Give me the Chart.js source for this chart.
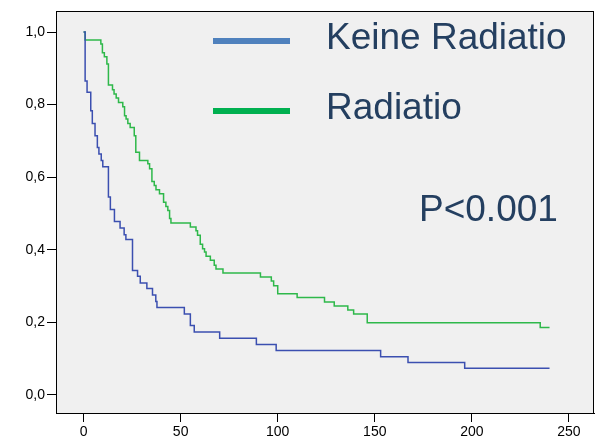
<!DOCTYPE html>
<html>
<head>
<meta charset="utf-8">
<script src="https://cdn.jsdelivr.net/npm/chart.js@4"></script>
<style>
  body { margin: 0; background: #fff; }
  canvas { display: block; }
</style>
</head>
<body>
<canvas id="km" width="595" height="438"></canvas>
<script>
// survival curves (months, cumulative survival)
var blueTimes = [0, 0.8, 1.8, 3.7, 4.5, 5.9, 7.1, 7.9, 9.1, 9.9, 12.8, 13.8, 15.9, 18.8, 20.9, 21.8, 25.2, 27.8, 29.2, 32.6, 35.5, 37.2, 37.8, 51.9, 55.0, 57.0, 70.1, 89.0, 99.2, 153.0, 167.1, 196.3, 240.0];
var blueSurv = [1.0, 0.865, 0.834, 0.783, 0.748, 0.714, 0.682, 0.664, 0.646, 0.629, 0.545, 0.511, 0.478, 0.460, 0.441, 0.428, 0.343, 0.327, 0.308, 0.293, 0.275, 0.257, 0.241, 0.223, 0.191, 0.173, 0.156, 0.139, 0.122, 0.105, 0.089, 0.073, 0.073];

var greenTimes = [0, 0.8, 8.9, 9.7, 10.7, 12.0, 12.8, 14.9, 15.7, 16.8, 18.0, 20.2, 21.1, 21.9, 22.8, 24.0, 26.1, 26.9, 28.8, 33.1, 34.0, 35.2, 36.4, 37.3, 39.1, 41.2, 42.4, 43.4, 44.3, 45.0, 55.0, 57.9, 58.7, 60.1, 61.3, 62.3, 63.1, 65.3, 67.3, 68.2, 71.8, 91.1, 96.7, 97.9, 100.0, 110.0, 124.1, 129.1, 136.1, 139.1, 146.1, 235.2, 240.0];
var greenSurv = [1.0, 0.978, 0.967, 0.943, 0.932, 0.912, 0.854, 0.841, 0.829, 0.818, 0.806, 0.794, 0.769, 0.760, 0.748, 0.737, 0.714, 0.669, 0.646, 0.637, 0.623, 0.588, 0.577, 0.565, 0.554, 0.531, 0.519, 0.508, 0.486, 0.474, 0.463, 0.452, 0.440, 0.415, 0.403, 0.394, 0.382, 0.371, 0.357, 0.347, 0.336, 0.325, 0.314, 0.301, 0.279, 0.268, 0.256, 0.245, 0.234, 0.223, 0.199, 0.186, 0.186];

var groupNames = ["Keine Radiatio", "Radiatio"];
var xTicks = [0, 50, 100, 150, 200, 250];
var yTicks = [0, 0.2, 0.4, 0.6, 0.8, 1.0];
var pText = "P<0.001";

function toPoints(xs, ys) {
  return xs.map(function (x, i) { return { x: x, y: ys[i] }; });
}

var frame = {
  id: 'frame',
  beforeDraw: function (chart) {
    var a = chart.chartArea, c = chart.ctx;
    c.save();
    c.fillStyle = '#f0f0f0';
    c.fillRect(a.left, a.top, a.right - a.left, a.bottom - a.top);
    c.restore();
  },
  afterDraw: function (chart) {
    var a = chart.chartArea, c = chart.ctx;
    c.save();
    c.strokeStyle = '#000';
    c.lineWidth = 1;
    c.strokeRect(a.left + 0.5, a.top + 0.5, a.right - a.left - 1, a.bottom - a.top);
    // legend + p value
    var legendCols = ['#4f81bd', '#00b050'];
    var rows = [41, 111];
    c.font = '37px "Liberation Sans", Arial, sans-serif';
    c.textBaseline = 'middle';
    chart.data.datasets.forEach(function (ds, i) {
      c.strokeStyle = legendCols[i];
      c.lineWidth = 6;
      c.beginPath();
      c.moveTo(213, rows[i]);
      c.lineTo(290, rows[i]);
      c.stroke();
      c.fillStyle = '#243f60';
      c.fillText(ds.label, 326, rows[i] - 2);
    });
    c.fillText(pText, 419, 211);
    c.restore();
  }
};

var tickFont = { family: '"Liberation Sans", Arial, sans-serif', size: 14 };

new Chart(document.getElementById('km').getContext('2d'), {
  type: 'line',
  data: {
    datasets: [{
      label: groupNames[0],
      data: toPoints(blueTimes, blueSurv),
      borderColor: '#3b4fb0',
      borderWidth: 1.5,
      stepped: 'before',
      pointRadius: 0,
      fill: false
    }, {
      label: groupNames[1],
      data: toPoints(greenTimes, greenSurv),
      borderColor: '#2eb84a',
      borderWidth: 1.5,
      stepped: 'before',
      pointRadius: 0,
      fill: false
    }]
  },
  options: {
    responsive: false,
    animation: false,
    devicePixelRatio: 1,
    layout: { padding: { top: 11, right: 1, left: 0, bottom: 0 } },
    plugins: {
      legend: { display: false },
      tooltip: { enabled: false }
    },
    scales: {
      x: {
        type: 'linear',
        min: -14.2,
        max: 262.9,
        afterBuildTicks: function (s) { s.ticks = xTicks.map(function (v) { return { value: v }; }); },
        afterFit: function (s) { s.height = 25; },
        ticks: { color: '#000', font: tickFont, padding: 2, maxRotation: 0 },
        grid: { drawOnChartArea: false, tickLength: 9, color: '#000' },
        border: { display: true, color: '#000' }
      },
      y: {
        min: -0.05,
        max: 1.058,
        afterBuildTicks: function (s) { s.ticks = yTicks.map(function (v) { return { value: v }; }); },
        afterFit: function (s) { s.width = 56; },
        ticks: {
          color: '#000', font: tickFont, padding: 2,
          callback: function (v) { return v.toFixed(1).replace('.', ','); }
        },
        grid: { drawOnChartArea: false, tickLength: 9, color: '#000' },
        border: { display: true, color: '#000' }
      }
    }
  },
  plugins: [frame]
});
</script>
</body>
</html>
